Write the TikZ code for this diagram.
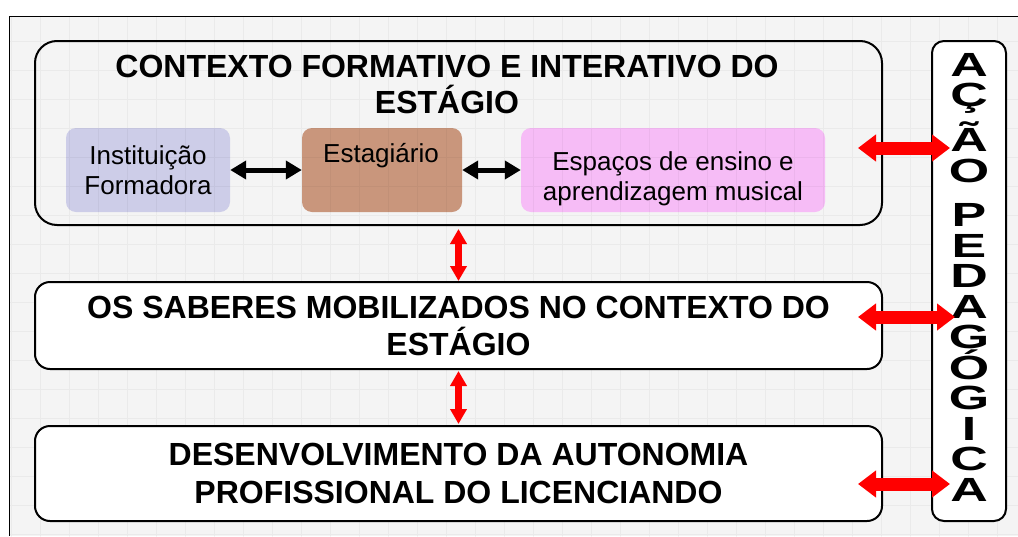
\documentclass[tikz,border=0pt]{standalone}
\usepackage{fontspec}
\setmainfont{Liberation Sans}
\usetikzlibrary{arrows.meta}
\tikzstyle{bigbox}=[draw, line width=2pt, rounded corners=15pt, inner sep=0pt, align=center, font=\fontsize{32}{37}\bfseries\selectfont]
\tikzstyle{innerbox}=[rounded corners=10pt, inner sep=0pt, align=center, font=\fontsize{26}{30}\selectfont]
\tikzstyle{innertext}=[inner sep=0pt, align=center, font=\fontsize{26}{30}\selectfont]
\tikzstyle{gridline}=[line width=0.8pt, draw=black, draw opacity=0.04]
\tikzstyle{blackarrow}=[line width=5pt, {Triangle[width=18pt,length=16pt]}-{Triangle[width=18pt,length=16pt]}]
\tikzstyle{redarrowv}=[draw=red, line width=7pt, {Triangle[width=16pt,length=15pt]}-{Triangle[width=16pt,length=15pt]}]
\tikzstyle{redarrowh}=[draw=red, line width=13pt, {Triangle[width=26pt,length=18pt]}-{Triangle[width=26pt,length=18pt]}]
\definecolor{framefill}{RGB}{244,244,244}
\definecolor{instituicao}{RGB}{205,205,232}
\definecolor{estagiario}{RGB}{201,150,124}
\definecolor{espacos}{RGB}{246,188,246}

\begin{document}
\begin{tikzpicture}[x=1pt, y=-1pt]
            \useasboundingbox (0,0) rectangle (1018,536);
            \fill[white] (0,0) rectangle (1018,536);
            \fill[framefill] (9,16) rectangle (1018,536);
            \draw[line width=1pt] (1018,16) -- (9,16) -- (9,536);

            \node[innerbox, fill=instituicao, minimum width=164pt, minimum height=84pt]
                (instituicao) at (148,170) {Instituição\\Formadora};
            \node[innerbox, fill=estagiario, minimum width=160pt, minimum height=84pt]
                (estagiario) at (382,170) {};
            \node[innerbox, fill=espacos, minimum width=304pt, minimum height=84pt]
                (espacos) at (673,170) {};

            \begin{scope}
                \clip (9,16) rectangle (1018,536);
                \begin{scope}[shift={(11,12)}]
                    \draw[gridline, step=29pt] (-29,-29) grid (1020,540);
                \end{scope}
            \end{scope}

            \node[innertext, anchor=base] (estagiariotexto) at (381,162) {Estagiário};
            \node[innertext] (espacostexto) at (673,179)
                {Espaços de ensino e\\aprendizagem musical};

            \node[bigbox, rounded corners=22pt, minimum width=847pt, minimum height=184pt]
                (contexto) at (458.5,133) {};
            \node[inner sep=0pt, align=center, font=\fontsize{32}{36}\bfseries\selectfont]
                (contextotexto) at (447,84) {CONTEXTO FORMATIVO E INTERATIVO DO\\ESTÁGIO};
            \node[bigbox, fill=white, minimum width=847pt, minimum height=87pt]
                (saberes) at (458.5,325.5) {OS SABERES MOBILIZADOS NO CONTEXTO DO\\ESTÁGIO};
            \node[bigbox, fill=white, minimum width=847pt, minimum height=95pt,
                font=\fontsize{32}{38}\bfseries\selectfont]
                (desenvolvimento) at (458.5,473.5) {DESENVOLVIMENTO DA AUTONOMIA\\PROFISSIONAL DO LICENCIANDO};

            \node[draw, line width=2pt, fill=white, rounded corners=12pt, minimum width=74pt, minimum height=480pt]
                (acao) at (969,281) {};
            \begin{scope}[shift={(969,53)}, xscale=1.55]
                \node[transform shape, anchor=north, inner sep=0pt, align=center,
                    font={\fontsize{33.5}{30.5}\bfseries\selectfont\lineskip=8pt}]
                    (acaotexto) at (0,0) {A\\Ç\\Ã\\O\\[14pt]P\\E\\D\\A\\G\\Ó\\G\\I\\C\\A};
            \end{scope}

            \draw[blackarrow] (instituicao.east) -- (estagiario.west);
            \draw[blackarrow] (estagiario.east) -- (espacos.west);

            \draw[redarrowv, shorten <=3pt] (contexto.south) -- (saberes.north);
            \draw[redarrowv, shorten <=1pt, shorten >=1pt] (saberes.south) -- (desenvolvimento.north);

            \coordinate (contextoR) at ([shift={(-25,15)}]contexto.east);
            \coordinate (saberesR) at ([shift={(-25,-8.5)}]saberes.east);
            \coordinate (desenvolvimentoR) at ([shift={(-25,10.5)}]desenvolvimento.east);
            \draw[redarrowh, shorten >=19pt] (contextoR) -- (contextoR -| acao.center);
            \draw[redarrowh, shorten >=14pt] (saberesR) -- (saberesR -| acao.center);
            \draw[redarrowh, shorten >=19pt] (desenvolvimentoR) -- (desenvolvimentoR -| acao.center);
        \end{tikzpicture}
\end{document}
